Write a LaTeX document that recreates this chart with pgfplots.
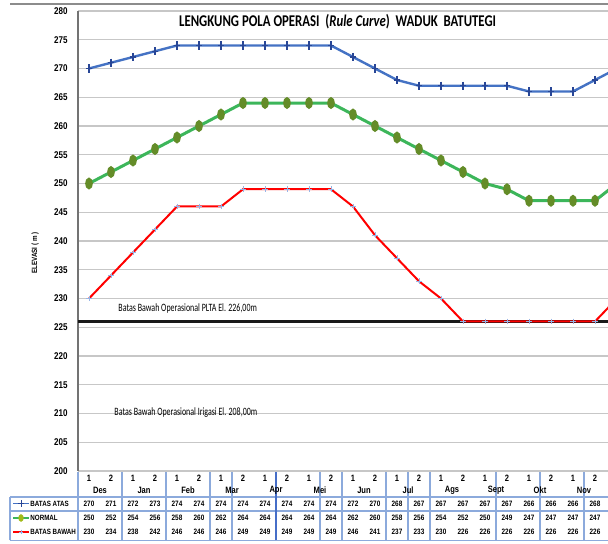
\documentclass[border=0pt]{standalone}
\usepackage{pgfplots}
\pgfplotsset{compat=1.18}
\usepackage{pgfplotstable}
\usepackage{fontspec}
\setmainfont{Carlito}
\newfontfamily\nar[FakeStretch=0.82]{Liberation Sans}
\newfontfamily\calfont[FakeStretch=0.71]{Carlito}
\newfontfamily\titlefont[FakeStretch=0.78]{Carlito}

\definecolor{atasblue}{RGB}{68,114,196}
\definecolor{atasmark}{RGB}{40,70,150}
\definecolor{normgreen}{RGB}{60,182,90}
\definecolor{normmark}{RGB}{100,140,40}
\definecolor{bawahmark}{RGB}{150,180,230}
\definecolor{tblue}{RGB}{140,170,220}
\definecolor{tdark}{RGB}{70,110,200}

\pgfplotstableread{
x atas normal bawah h
0 270 250 230 1
1 271 252 234 2
2 272 254 238 1
3 273 256 242 2
4 274 258 246 1
5 274 260 246 2
6 274 262 246 1
7 274 264 249 2
8 274 264 249 1
9 274 264 249 2
10 274 264 249 1
11 274 264 249 2
12 272 262 246 1
13 270 260 241 2
14 268 258 237 1
15 267 256 233 2
16 267 254 230 1
17 267 252 226 2
18 267 250 226 1
19 267 249 226 2
20 266 247 226 1
21 266 247 226 2
22 266 247 226 1
23 268 247 226 2
24 270 250 230 1
}\rc

\pgfplotstableread{
x m
0.5 Des
2.5 Jan
4.5 Feb
6.5 Mar
8.5 Apr
10.5 Mei
12.5 Jun
14.5 Jul
16.5 Ags
18.5 Sept
20.5 Okt
22.5 Nov
}\months

\begin{document}
\begin{tikzpicture}
\useasboundingbox (0,0) rectangle (304pt,272pt);
\clip (0,0) rectangle (304pt,272pt);
\fill[white] (0,0) rectangle (304pt,272pt);
\draw[black!45, line width=1pt] (5pt,270pt) -- (304pt,270pt);

\begin{axis}[
  at={(39pt,36.5pt)}, anchor=south west,
  scale only axis, width=275pt, height=230pt,
  xmin=-0.5, xmax=24.5, ymin=200, ymax=280,
  ytick={200,205,...,280}, xtick=\empty,
  ymajorgrids, grid style={draw=black!22, line width=0.7pt},
  axis x line*=bottom, axis y line*=left,
  x axis line style={draw=black!22, line width=0.7pt, -},
  y axis line style={draw=black!55, line width=0.6pt, -},
  major tick length=0pt,
  yticklabel style={font=\nar\bfseries\fontsize{4.9}{5}\selectfont, inner sep=0pt, xshift=-5pt},
  /pgf/number format/assume math mode=true,
  clip=false,
]
\addplot[black!90, line width=1.5pt] coordinates {(-0.5,226) (24.5,226)};
\addplot[atasblue, line width=1.2pt, mark=+, mark size=1.6pt,
  mark options={atasmark, line width=0.6pt, yscale=1.3}] table[x=x,y=atas]{\rc};
\addplot[normgreen, line width=1.5pt, mark=*, mark size=2.1pt,
  mark options={draw=normmark, fill=normmark, xscale=0.55}] table[x=x,y=normal]{\rc};
\addplot[red, line width=1pt, mark=+, mark size=1.4pt,
  mark options={bawahmark, line width=0.4pt}] table[x=x,y=bawah]{\rc};

\node[font=\titlefont\bfseries\fontsize{8.2}{9}\selectfont] at (axis cs:11.3,278.1)
  {LENGKUNG POLA OPERASI\ \ (\textit{Rule Curve})\ \ WADUK\ \ BATUTEGI};
\node[font=\calfont\fontsize{5.6}{6}\selectfont, anchor=west, inner sep=0pt] at (axis cs:1.32,228.2)
  {Batas Bawah Operasional PLTA El. 226,00m};
\node[font=\calfont\fontsize{5.6}{6}\selectfont, anchor=west, inner sep=0pt] at (axis cs:1.14,210.1)
  {Batas Bawah Operasional Irigasi El. 208,00m};
\node[rotate=90, inner sep=0pt, font=\nar\bfseries\fontsize{3.8}{4}\selectfont] at (axis cs:-2.45,237.9)
  {ELEVASI ( m )};
\end{axis}

\begin{axis}[
  at={(39pt,1.5pt)}, anchor=south west,
  scale only axis, width=275pt, height=34.5pt,
  xmin=-0.5, xmax=24.5, ymin=0, ymax=69,
  hide axis, clip=false,
]
% table frame
\draw[tblue, line width=0.7pt] (axis cs:-3.59,44) -- (axis cs:24.5,44);
\draw[tblue, line width=0.7pt] (axis cs:-3.59,30) -- (axis cs:24.5,30);
\draw[tblue, line width=0.7pt] (axis cs:-3.59,0.5) -- (axis cs:24.5,0.5);
\draw[tblue, line width=0.7pt] (axis cs:-3.59,0.5) -- (axis cs:-3.59,44);
\pgfplotsinvokeforeach{-0.5,1.5,3.5,5.5,6.5,10.5,11.5,13.5,14.5,15.5,18.5,20.5,22.5}{
  \draw[tblue, line width=0.7pt] (axis cs:#1,0.5) -- (axis cs:#1,69);
}
\draw[tdark, line width=1.2pt] (axis cs:8.5,0.5) -- (axis cs:8.5,69);

% header
\addplot[draw=none, mark=none, restrict x to domain=0:23,
  nodes near coords, point meta=explicit symbolic,
  every node near coord/.style={anchor=center, inner sep=0pt, font=\nar\bfseries\fontsize{4.6}{5}\selectfont}]
  table[x=x, y expr=63, meta=h]{\rc};
\addplot[draw=none, mark=none,
  nodes near coords, point meta=explicit symbolic,
  every node near coord/.style={anchor=center, inner sep=0pt, font=\nar\bfseries\fontsize{4.6}{5}\selectfont}]
  table[x=x, y expr=51, meta=m]{\months};

% values
\addplot[draw=none, mark=none, restrict x to domain=0:23,
  nodes near coords, point meta=explicit symbolic,
  every node near coord/.style={anchor=center, inner sep=0pt, font=\nar\bfseries\fontsize{3.9}{4}\selectfont}]
  table[x=x, y expr=37.5, meta=atas]{\rc};
\addplot[draw=none, mark=none, restrict x to domain=0:23,
  nodes near coords, point meta=explicit symbolic,
  every node near coord/.style={anchor=center, inner sep=0pt, font=\nar\bfseries\fontsize{3.9}{4}\selectfont}]
  table[x=x, y expr=23, meta=normal]{\rc};
\addplot[draw=none, mark=none, restrict x to domain=0:23,
  nodes near coords, point meta=explicit symbolic,
  every node near coord/.style={anchor=center, inner sep=0pt, font=\nar\bfseries\fontsize{3.9}{4}\selectfont}]
  table[x=x, y expr=9, meta=bawah]{\rc};

% legend keys
\addplot[atasblue, line width=0.8pt, mark=+, mark size=1.3pt, mark repeat=2, mark phase=2,
  mark options={atasmark, line width=0.5pt, yscale=1.3}]
  coordinates {(-3.45,37.5) (-3.09,37.5) (-2.73,37.5)};
\addplot[normgreen, line width=1.2pt, mark=*, mark size=1.2pt, mark repeat=2, mark phase=2,
  mark options={draw=normmark!60!yellow, fill=normmark!60!yellow, xscale=0.6}]
  coordinates {(-3.45,23) (-3.09,23) (-2.73,23)};
\addplot[red, line width=1.2pt, mark=+, mark size=1.2pt, mark repeat=2, mark phase=2,
  mark options={bawahmark, line width=0.4pt}]
  coordinates {(-3.45,9) (-3.09,9) (-2.73,9)};
\node[anchor=west, inner sep=0pt, font=\nar\bfseries\fontsize{3.8}{4}\selectfont] at (axis cs:-2.68,37.5) {BATAS ATAS};
\node[anchor=west, inner sep=0pt, font=\nar\bfseries\fontsize{3.8}{4}\selectfont] at (axis cs:-2.68,23) {NORMAL};
\node[anchor=west, inner sep=0pt, font=\nar\bfseries\fontsize{3.8}{4}\selectfont] at (axis cs:-2.68,9) {BATAS BAWAH};
\end{axis}
\end{tikzpicture}
\end{document}
